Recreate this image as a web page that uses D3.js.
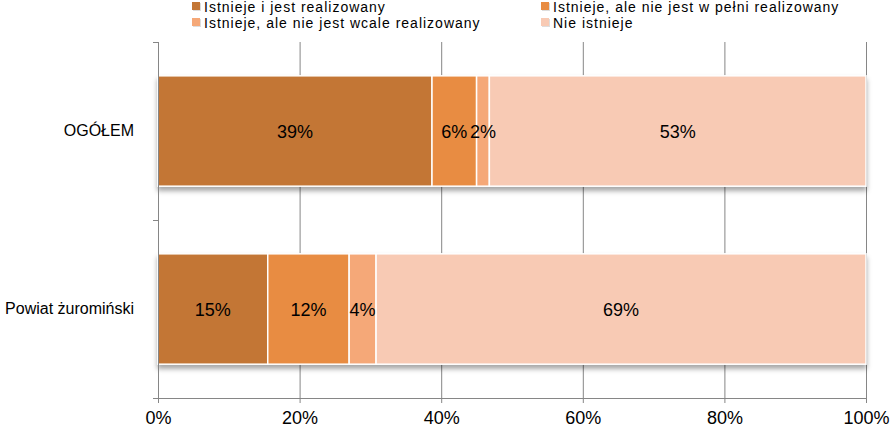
<!DOCTYPE html>
<html lang="pl">
<head>
<meta charset="UTF-8">
<script src="https://d3js.org/d3.v7.min.js"></script>
<style>
  body { margin: 0; background: #fff; font-family: "Liberation Sans", Arial, sans-serif; }
</style>
</head>
<body>
<div id="chart"></div>
<script>
const width = 890, height = 429;

const categories = ["OGÓŁEM", "Powiat żuromiński"];
const seriesNames = [
  "Istnieje i jest realizowany",
  "Istnieje, ale nie jest w pełni realizowany",
  "Istnieje, ale nie jest wcale realizowany",
  "Nie istnieje"
];
const seriesValues = [
  [38.7, 15.5],
  [6.3, 11.5],
  [1.8, 3.8],
  [53.2, 69.2]
];
const valueLabels = [
  ["39%", "15%"],
  ["6%", "12%"],
  ["2%", "4%"],
  ["53%", "69%"]
];
const xTicks = [0, 20, 40, 60, 80, 100];
const colors = ["#c37635", "#e88c42", "#f5a878", "#f8cab4"];

const svg = d3.select("#chart").append("svg")
  .attr("width", width).attr("height", height);

const defs = svg.append("defs");
const f = defs.append("filter").attr("id", "shadow")
  .attr("x", "-5%").attr("y", "-5%").attr("width", "110%").attr("height", "130%");
f.append("feDropShadow").attr("dx", 0).attr("dy", 4).attr("stdDeviation", 2.5)
  .attr("flood-color", "#000").attr("flood-opacity", 0.35);

const x = d3.scaleLinear().domain([0, 100]).range([158, 866]);
const y = d3.scaleBand().domain(categories).range([42, 398]).paddingInner(0.38).paddingOuter(0.19);

// gridlines
svg.append("g").selectAll("line").data(xTicks.slice(1)).join("line")
  .attr("x1", d => x(d) + 0.5).attr("x2", d => x(d) + 0.5)
  .attr("y1", 42).attr("y2", 398)
  .attr("stroke", "#868686").attr("stroke-width", 1);

// stacked data
const rows = categories.map((c, i) => {
  let acc = 0;
  return seriesValues.map((s, k) => {
    const r = { cat: c, k, x0: acc, x1: acc + s[i], label: valueLabels[k][i] };
    acc += s[i];
    return r;
  });
});

const bars = svg.append("g");
rows.forEach(row => {
  const g = bars.append("g").attr("filter", "url(#shadow)");
  g.selectAll("rect").data(row).join("rect")
    .attr("x", d => x(d.x0)).attr("width", d => x(d.x1) - x(d.x0))
    .attr("y", d => y(d.cat)).attr("height", y.bandwidth())
    .attr("fill", d => colors[d.k])
    .attr("stroke", "#fff").attr("stroke-width", 1.5);
});

rows.forEach(row => {
  svg.append("g").selectAll("text").data(row).join("text")
    .attr("x", d => (x(d.x0) + x(d.x1)) / 2)
    .attr("y", d => y(d.cat) + y.bandwidth() / 2 + 7)
    .attr("text-anchor", "middle")
    .attr("font-size", 18).attr("fill", "#000")
    .text(d => d.label);
});

// y axis
const yAxisG = svg.append("g");
yAxisG.append("line").attr("x1", 158.5).attr("x2", 158.5).attr("y1", 42).attr("y2", 398)
  .attr("stroke", "#868686");
[42, 220, 398].forEach(v => {
  yAxisG.append("line").attr("x1", 153).attr("x2", 158).attr("y1", v + 0.5).attr("y2", v + 0.5)
    .attr("stroke", "#868686");
});
yAxisG.selectAll("text").data(categories).join("text")
  .attr("x", 134).attr("y", d => y(d) + y.bandwidth() / 2 + 5)
  .attr("text-anchor", "end").attr("font-size", 16).attr("fill", "#000")
  .text(d => d);

// x axis
const xAxis = d3.axisBottom(x).tickValues(xTicks).tickSize(5).tickFormat(d => d + "%");
const xg = svg.append("g").attr("transform", "translate(0,398)").call(xAxis);
xg.select(".domain").attr("stroke", "#868686");
xg.selectAll(".tick line").attr("stroke", "#868686");
xg.selectAll(".tick text").attr("font-size", 18).attr("fill", "#000")
  .attr("font-family", "Liberation Sans, Arial, sans-serif")
  .attr("y", 26).attr("dy", 0);

// legend
const legendPos = [[192, 12], [541, 12], [192, 28], [541, 28]];
const lg = svg.append("g");
seriesNames.forEach((n, k) => {
  const [lx, ly] = legendPos[k];
  lg.append("rect").attr("x", lx + 1).attr("y", ly - 9).attr("width", 8).attr("height", 8)
    .attr("fill", "#ddd");
  lg.append("rect").attr("x", lx).attr("y", ly - 10).attr("width", 8).attr("height", 8)
    .attr("fill", colors[k]);
  lg.append("text").attr("x", lx + 12).attr("y", ly)
    .attr("font-size", 14).attr("letter-spacing", 1).attr("fill", "#000").text(n);
});
</script>
</body>
</html>
